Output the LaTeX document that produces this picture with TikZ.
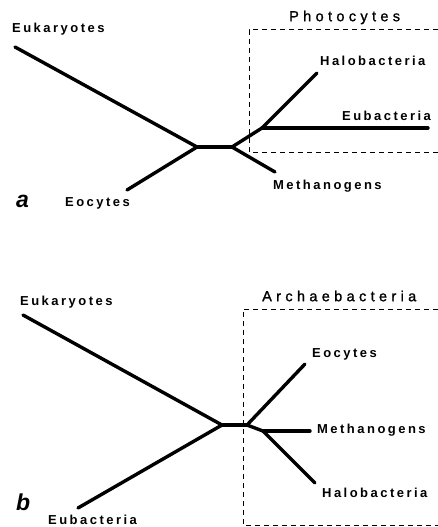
\documentclass[tikz,border=0pt]{standalone}
\usepackage{fontspec}
\newfontfamily\labfont{Liberation Sans}[LetterSpace=19]
\newfontfamily\titfont{Liberation Sans}[LetterSpace=30,FakeBold=1.2]
\newfontfamily\panfont{Liberation Sans}
\begin{document}
\begin{tikzpicture}[x=1pt,y=-1pt,
  branch/.style={line width=3.4pt,line cap=round,line join=round},
  groupbox/.style={line width=1pt,dash pattern=on 5pt off 4pt},
  lab/.style={anchor=west,inner sep=0pt,text height=9.3pt,text depth=0pt,
    font=\labfont\bfseries\fontsize{13}{14}\selectfont},
  tit/.style={anchor=west,inner sep=0pt,text height=10.4pt,text depth=0pt,
    font=\titfont\fontsize{14.5}{15}\selectfont},
  pan/.style={anchor=west,inner sep=0pt,
    font=\panfont\bfseries\itshape\fontsize{23}{23}\selectfont}]
\useasboundingbox (0,0) rectangle (438,527);
% ---------- panel a ----------
\coordinate (ja1) at (197,147);
\coordinate (ja2) at (232,147);
\coordinate (ja3) at (262,128);
\coordinate (aEuk) at (15,47);
\coordinate (aEoc) at (127,190);
\coordinate (aMet) at (275,172);
\coordinate (aHal) at (317,73);
\coordinate (aEub) at (428,128);
\coordinate (aBoxTL) at (249,30);
\coordinate (aBoxBL) at (249,152);
\coordinate (aBoxTR) at (438,30);
\coordinate (aBoxBR) at (438,152);
\draw[groupbox] (aBoxTR) -- (aBoxTL) -- (aBoxBL) -- (aBoxBR);
\draw[branch] (aEuk) -- (ja1);
\draw[branch] (aEoc) -- (ja1);
\draw[branch] (ja1) -- (ja2);
\draw[branch] (ja2) -- (aMet);
\draw[branch] (ja2) -- (ja3);
\draw[branch] (ja3) -- (aHal);
\draw[branch] (ja3) -- (aEub);
\node[lab] (laEuk) at (12,27.5) {Eukaryotes};
\node[lab] (laEoc) at (65,202) {Eocytes};
\node[lab] (laMet) at (273,185) {Methanogens};
\node[lab] (laHal) at (320,61) {Halobacteria};
\node[lab] (laEub) at (342,116) {Eubacteria};
\node[tit] (laTit) at (289,16) {Photocytes};
\node[pan] (laPan) at (16,201) {a};
% ---------- panel b ----------
\coordinate (jb1) at (222,425);
\coordinate (jb2) at (247,425);
\coordinate (jb3) at (263,431);
\coordinate (bEuk) at (23,315);
\coordinate (bEub) at (78,508);
\coordinate (bEoc) at (305,364);
\coordinate (bMet) at (310,431);
\coordinate (bHal) at (315,483);
\coordinate (bBoxTL) at (243,309);
\coordinate (bBoxBL) at (243,525);
\coordinate (bBoxTR) at (438,309);
\coordinate (bBoxBR) at (438,525);
\draw[groupbox] (bBoxTR) -- (bBoxTL) -- (bBoxBL) -- (bBoxBR);
\draw[branch] (bEuk) -- (jb1);
\draw[branch] (bEub) -- (jb1);
\draw[branch] (jb1) -- (jb2);
\draw[branch] (jb2) -- (bEoc);
\draw[branch] (jb2) -- (jb3);
\draw[branch] (jb3) -- (bMet);
\draw[branch] (jb3) -- (bHal);
\node[lab] (lbEuk) at (20,301) {Eukaryotes};
\node[lab] (lbEub) at (48,520) {Eubacteria};
\node[lab] (lbEoc) at (312,353) {Eocytes};
\node[lab] (lbMet) at (317,429) {Methanogens};
\node[lab] (lbHal) at (322,493) {Halobacteria};
\node[tit] (lbTit) at (262,296) {Archaebacteria};
\node[pan] (lbPan) at (16,502) {b};
\end{tikzpicture}
\end{document}
